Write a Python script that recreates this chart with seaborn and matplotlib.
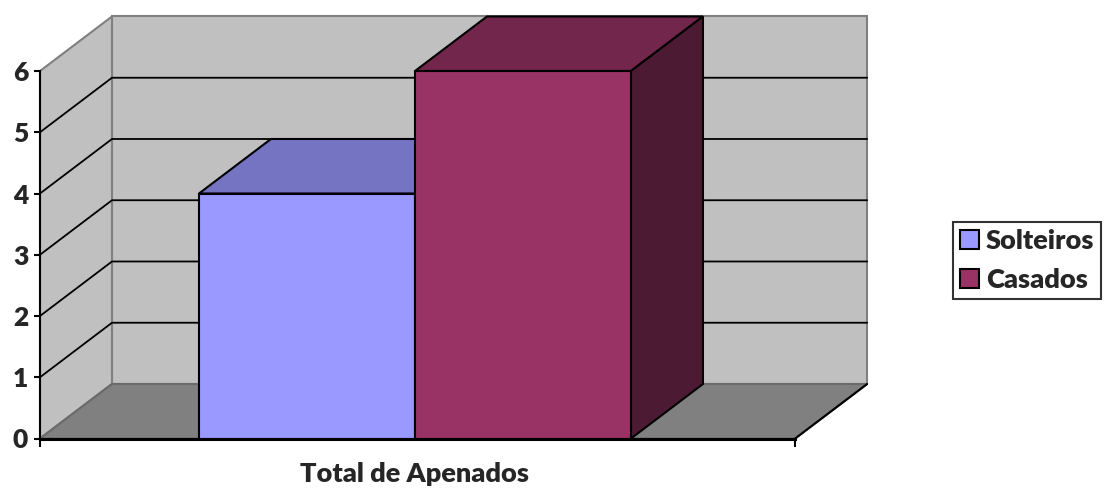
import pandas as pd
import matplotlib.pyplot as plt
import seaborn as sns
from matplotlib.patches import Polygon

# data
categories = ["Total de Apenados"]
groups = ["Solteiros", "Casados"]
values = [4, 6]
y_ticks = [0, 1, 2, 3, 4, 5, 6]

front_colors = ["#9999FF", "#993366"]
top_colors = ["#7474C2", "#72264B"]
side_colors = ["#5B5B99", "#4D1A33"]

df = pd.DataFrame({
    "categoria": categories * len(groups),
    "estado": groups,
    "total": values,
})

sns.set_theme(style="white")
plt.rcParams["font.family"] = ["Lato", "DejaVu Sans"]
plt.rcParams["font.weight"] = "heavy"

fig = plt.figure(figsize=(11.09, 4.88), dpi=100)
ax = fig.add_axes([40 / 1109, 49.5 / 488, 834 / 1109, 428.75 / 488])

sns.barplot(
    data=df, x="categoria", y="total", hue="estado",
    palette=front_colors, saturation=1, errorbar=None,
    edgecolor="black", linewidth=1.5, ax=ax,
)

# 3d box geometry (data units)
L, R = -0.6944, 0.704
dx, dy = 0.1333, 0.89
top = max(y_ticks)

ax.set_xlim(L, 0.85)
ax.set_ylim(0, 7.0)

# back wall, side wall and floor
ax.add_patch(Polygon([(L + dx, dy), (R + dx, dy), (R + dx, top + dy), (L + dx, top + dy)],
                     closed=True, fc="#C0C0C0", ec="#808080", lw=1.5, zorder=0.5))
ax.add_patch(Polygon([(L, 0), (L + dx, dy), (L + dx, top + dy), (L, top)],
                     closed=True, fc="#C0C0C0", ec="#808080", lw=1.5, zorder=0.5))
ax.add_patch(Polygon([(L, 0), (R, 0), (R + dx, dy), (L + dx, dy)],
                     closed=True, fc="#808080", ec="#6A6A6A", lw=1.5, zorder=0.6))
ax.plot([R, R + dx], [0, dy], color="black", lw=1.5, zorder=0.7)

# gridlines
for v in y_ticks[1:-1]:
    ax.plot([L, L + dx, R + dx], [v, v + dy, v + dy], color="black", lw=1.3, zorder=1)

# bar tops and sides
for i, container in enumerate(ax.containers):
    for bar in container:
        x0 = bar.get_x()
        x1 = x0 + bar.get_width()
        h = bar.get_height()
        bar.set_zorder(3 + 2 * i)
        ax.add_patch(Polygon([(x0, h), (x1, h), (x1 + dx, h + dy), (x0 + dx, h + dy)],
                             closed=True, fc=top_colors[i], ec="black", lw=1.5, zorder=2 + 2 * i))
        ax.add_patch(Polygon([(x1, 0), (x1 + dx, dy), (x1 + dx, h + dy), (x1, h)],
                             closed=True, fc=side_colors[i], ec="black", lw=1.5, zorder=2 + 2 * i))

# axes
for s in ["top", "right"]:
    ax.spines[s].set_visible(False)
ax.spines["left"].set_bounds(0, top)
ax.spines["left"].set_color("black")
ax.spines["left"].set_linewidth(1.5)
ax.spines["left"].set_zorder(10)
ax.spines["bottom"].set_bounds(L, R)
ax.spines["bottom"].set_color("black")
ax.spines["bottom"].set_linewidth(2.2)
ax.spines["bottom"].set_zorder(10)

ax.set_yticks(y_ticks)
ax.set_yticklabels([str(t) for t in y_ticks], fontsize=19, fontweight="heavy")
ax.tick_params(axis="y", direction="out", length=4, width=1.5, color="black", pad=4.5, left=True)
ax.set_xticks([L, R], labels=["", ""])
ax.tick_params(axis="x", which="major", direction="out", length=6, width=1.5, color="black", bottom=True)
ax.set_xticks([0], labels=categories, minor=True)
ax.tick_params(axis="x", which="minor", length=0, pad=17, labelsize=19.5)
for lab in ax.get_xticklabels(minor=True):
    lab.set_fontweight("heavy")
ax.set_xlabel("")
ax.set_ylabel("")
ax.grid(False)

handles, labels = ax.get_legend_handles_labels()
ax.get_legend().remove()
leg = fig.legend(handles, labels, loc="center left", bbox_to_anchor=(953 / 1109, 1 - 260.5 / 488),
                 frameon=True, fancybox=False, edgecolor="black",
                 prop={"size": 19.5, "weight": "heavy"},
                 handlelength=0.72, handleheight=0.72, handletextpad=0.25,
                 borderpad=0.25, labelspacing=0.55, borderaxespad=0)
leg.get_frame().set_linewidth(1.5)
for hnd in leg.legend_handles:
    hnd.set_edgecolor("black")
    hnd.set_linewidth(1.5)

fig.savefig("out.png", dpi=100, facecolor="white")
